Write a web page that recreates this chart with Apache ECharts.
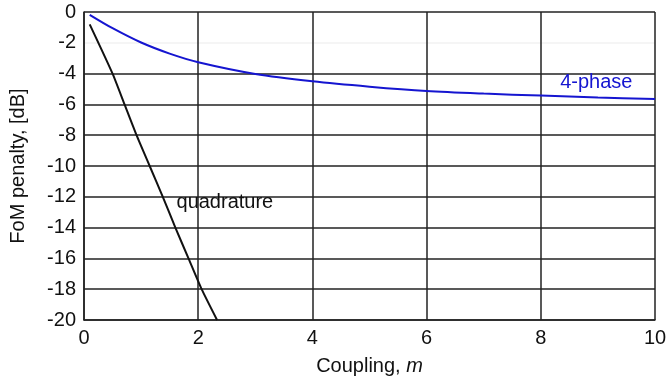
<!DOCTYPE html>
<html>
<head>
<meta charset="utf-8">
<script src="https://cdn.jsdelivr.net/npm/echarts@6/dist/echarts.min.js"></script>
<style>
  html, body { margin: 0; padding: 0; background: #fff; }
  #chart { width: 670px; height: 382px; }
</style>
</head>
<body>
<div id="chart"></div>
<script>
// 4-phase 曲线
var phaseX = [0.1, 0.5, 1, 1.5, 2, 3, 4, 5, 6, 7, 8, 9, 10];
var phaseY = [-0.18, -1.05, -1.98, -2.7, -3.26, -4.02, -4.5, -4.85, -5.13, -5.3, -5.43, -5.55, -5.65];
// quadrature 曲线
var quadX = [0.1, 0.5, 0.71, 0.92, 1.15, 1.38, 1.6, 1.83, 2.06, 2.33];
var quadY = [-0.8, -4, -6, -8, -10, -12, -14, -16, -18, -20];

var xTicks = [0, 2, 4, 6, 8, 10];
var yTicks = [-20, -18, -16, -14, -12, -10, -8, -6, -4, -2, 0];

function pairs(xs, ys) {
  return xs.map(function (x, i) { return [x, ys[i]]; });
}

var font = "'Liberation Sans', Arial, sans-serif";
var gridColor = "#222";

// -2 那条线原图几乎看不见
var yLineColors = yTicks.map(function (v) { return v === -2 ? "#f2f2f2" : gridColor; });

var chart = echarts.init(document.getElementById("chart"));
var option = {
  backgroundColor: "#fff",
  animation: false,
  grid: { left: 84, right: 15, top: 12, bottom: 62, containLabel: false },
  xAxis: {
    type: "value",
    min: xTicks[0],
    max: xTicks[xTicks.length - 1],
    interval: 2,
    name: "{n|Coupling, }{i|m}",
    nameLocation: "middle",
    nameGap: 36,
    nameTextStyle: {
      rich: {
        n: { fontFamily: font, fontSize: 20, color: "#111" },
        i: { fontFamily: font, fontSize: 20, color: "#111", fontStyle: "italic" }
      }
    },
    axisLine: { show: true, onZero: false, lineStyle: { color: gridColor, width: 1.5 } },
    axisTick: { show: false },
    axisLabel: { fontFamily: font, fontSize: 20, color: "#111", margin: 8 },
    splitLine: { show: true, lineStyle: { color: gridColor, width: 1.5 } }
  },
  yAxis: {
    type: "value",
    min: yTicks[0],
    max: yTicks[yTicks.length - 1],
    interval: 2,
    name: "FoM penalty, [dB]",
    nameLocation: "middle",
    nameGap: 56,
    nameTextStyle: { fontFamily: font, fontSize: 20, color: "#111" },
    axisLine: { show: true, onZero: false, lineStyle: { color: gridColor, width: 1.5 } },
    axisTick: { show: false },
    axisLabel: { fontFamily: font, fontSize: 20, color: "#111", margin: 8 },
    splitLine: { show: true, lineStyle: { color: yLineColors, width: 1.5 } }
  },
  series: [
    {
      name: "4-phase",
      type: "line",
      data: pairs(phaseX, phaseY),
      symbol: "none",
      smooth: 0.3,
      lineStyle: { color: "#1515d0", width: 2 },
      markPoint: {
        symbol: "circle",
        symbolSize: 0,
        label: {
          show: true,
          formatter: "4-phase",
          position: "right",
          distance: 0,
          fontFamily: font,
          fontSize: 20,
          color: "#1515d0"
        },
        data: [{ coord: [8.34, -4.58] }]
      }
    },
    {
      name: "quadrature",
      type: "line",
      data: pairs(quadX, quadY),
      symbol: "none",
      smooth: 0.2,
      lineStyle: { color: "#111", width: 2 },
      markPoint: {
        symbol: "circle",
        symbolSize: 0,
        label: {
          show: true,
          formatter: "quadrature",
          position: "right",
          distance: 0,
          fontFamily: font,
          fontSize: 20,
          color: "#111"
        },
        data: [{ coord: [1.62, -12.39] }]
      }
    }
  ]
};
chart.setOption(option);
</script>
</body>
</html>
